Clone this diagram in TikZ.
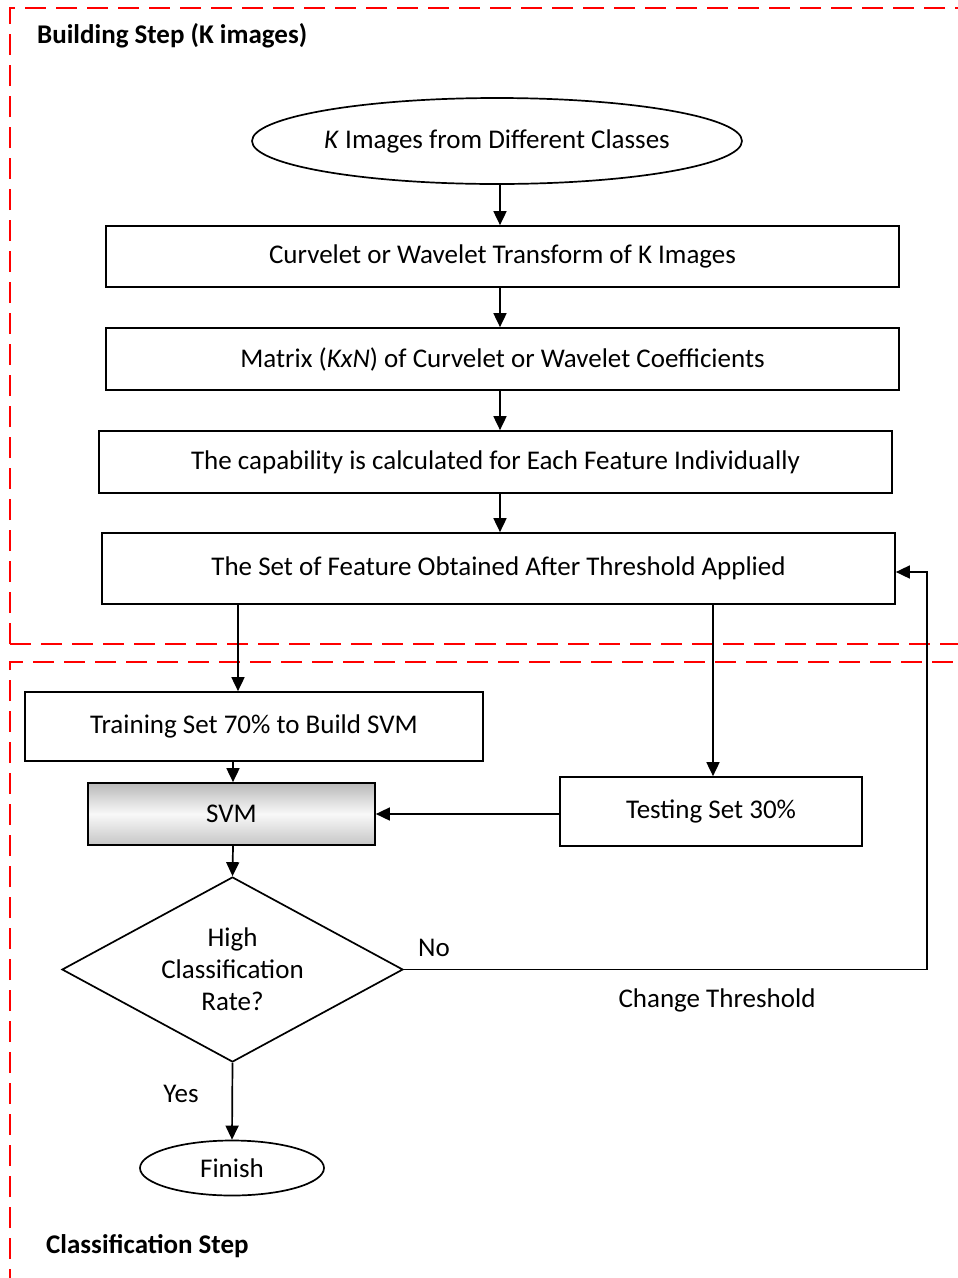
\documentclass[tikz,border=0pt]{standalone}
\usepackage{fontspec}
\setmainfont{Carlito}
\usetikzlibrary{shapes.geometric,arrows.meta}
\begin{document}
\begin{tikzpicture}[x=1pt,y=-1pt,
  every node/.style={font=\fontsize{27}{32}\selectfont},
  procbox/.style={draw,line width=1.7pt,inner sep=0pt},
  arr/.style={line width=1.7pt,-{Triangle[length=14pt,width=13pt]}},
  frame/.style={red,line width=2.8pt,dash pattern=on 21pt off 10pt},
  heading/.style={font=\fontsize{27}{32}\selectfont\bfseries,anchor=west,inner sep=0pt}]
\useasboundingbox (0,0) rectangle (958,1278);

% dashed stage frames
\draw[frame] (10,644) -- (10,8) -- (975,8);
\draw[frame] (10,644) -- (975,644);
\draw[frame] (10,1290) -- (10,662) -- (975,662);
\node[heading] (h1) at (37,36) {Building Step (K images)};
\node[heading] (h2) at (46,1246) {Classification Step};

% building step
\node[draw,ellipse,line width=1.7pt,minimum width=490pt,minimum height=86pt,inner sep=0pt] (img) at (497,141) {\textit{K} Images from Different Classes};
\node[procbox,minimum width=793pt,minimum height=61pt] (ct) at (502.5,256.5) {Curvelet or Wavelet Transform of K Images};
\node[procbox,minimum width=793pt,minimum height=62pt] (mx) at (502.5,359) {Matrix (\textit{KxN}) of Curvelet or Wavelet Coefficients};
\node[procbox,minimum width=793pt,minimum height=62pt] (cap) at (495.5,462) {The capability is calculated for Each Feature Individually};
\node[procbox,minimum width=793pt,minimum height=71pt] (set) at (498.5,568.5) {The Set of Feature Obtained After Threshold Applied};

\draw[arr] (img.south -| 500,0) -- (ct.north -| 500,0);
\draw[arr] (ct.south -| 500,0) -- (mx.north -| 500,0);
\draw[arr] (mx.south -| 500,0) -- (cap.north -| 500,0);
\draw[arr] (cap.south -| 500,0) -- (set.north -| 500,0);

% classification step
\node[procbox,minimum width=458pt,minimum height=69pt] (train) at (254,726.5) {Training Set 70\% to Build SVM};
\node[procbox,minimum width=302pt,minimum height=69pt] (test) at (711,811.5) {Testing Set 30\%};
\node[procbox,minimum width=287pt,minimum height=62pt,
  top color=gray!55,bottom color=gray!45,middle color=gray!5] (svm) at (231.5,814) {SVM};
\node[draw,diamond,line width=1.7pt,minimum width=341pt,minimum height=185pt,inner sep=0pt,aspect=1.84,
  align=center,font=\fontsize{27}{32}\selectfont] (dec) at (232.5,969.5) {High\\Classification\\Rate?};
\node[draw,ellipse,line width=1.7pt,minimum width=184pt,minimum height=55pt,inner sep=0pt] (fin) at (232,1168) {Finish};

\draw[arr] (set.south -| 238,0) -- (train.north -| 238,0);
\draw[arr] (set.south -| 713,0) -- (test.north -| 713,0);
\draw[arr] (train.south -| 233,0) -- (svm.north -| 233,0);
\draw[arr] (test.west |- svm.east) -- (svm.east);
\draw[arr] (svm.south -| 233,0) -- (dec.north);
\draw[arr] (dec.south) -- (fin.north);

\coordinate (loopA) at (927,969.5);
\coordinate (loopB) at (927,572);
\draw[arr] (dec.east) -- (loopA) -- (loopB) -- (set.east |- loopB);

\node (no) at (434,948) {No};
\node (chg) at (717,1000) {Change Threshold};
\node (yes) at (181,1094) {Yes};
\end{tikzpicture}
\end{document}
